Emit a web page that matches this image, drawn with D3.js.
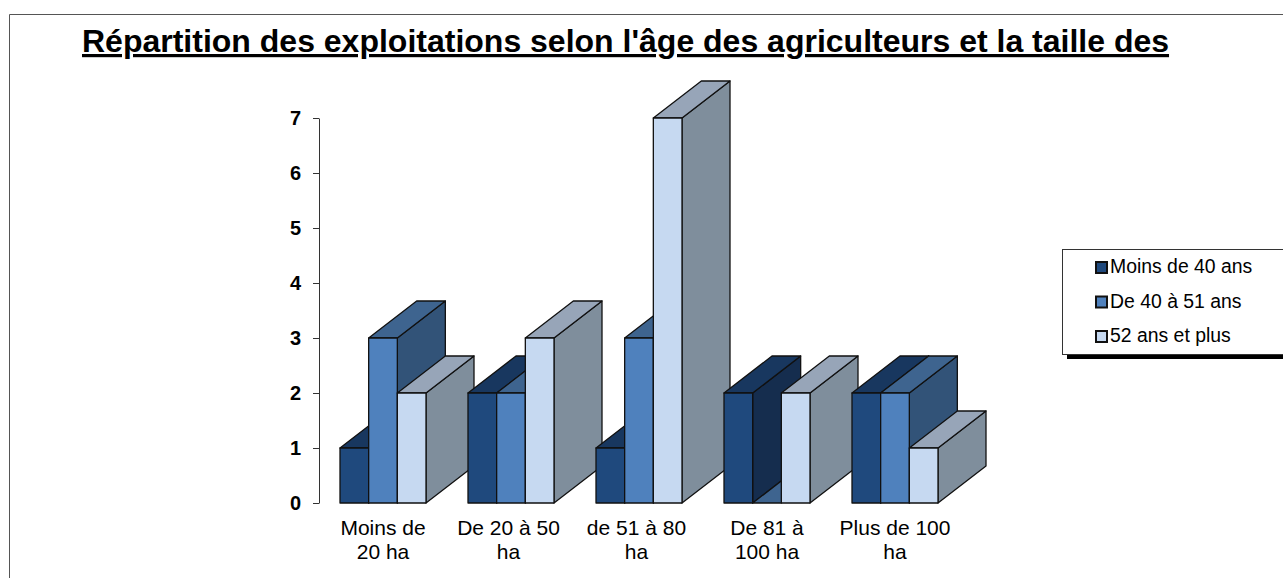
<!DOCTYPE html>
<html>
<head>
<meta charset="utf-8">
<script src="https://cdn.jsdelivr.net/npm/d3@7"></script>
<style>
  html, body { margin: 0; padding: 0; background: #fff; overflow: hidden; }
  svg { display: block; font-family: "Liberation Sans", Arial, sans-serif; }
</style>
</head>
<body>
<div id="graph1"></div>
<script>
const title = "Répartition des exploitations selon l'âge des agriculteurs et la taille des";
const categories = ["Moins de 20 ha", "De 20 à 50 ha", "de 51 à 80 ha", "De 81 à 100 ha", "Plus de 100 ha"];
const categoryLines = [["Moins de", "20 ha"], ["De 20 à 50", "ha"], ["de 51 à 80", "ha"], ["De 81 à", "100 ha"], ["Plus de 100", "ha"]];
const seriesNames = ["Moins de 40 ans", "De 40 à 51 ans", "52 ans et plus"];
const moins40 = [1, 2, 1, 2, 2];
const de40a51 = [3, 2, 3, 0, 2];
const plus52 = [2, 3, 7, 2, 1];
const yTicks = [0, 1, 2, 3, 4, 5, 6, 7];

const seriesValues = [moins40, de40a51, plus52];
const frontColors = ["#1f497d", "#4f81bd", "#c6d9f1"];
const topColors = ["#18375f", "#3e648f", "#97a5b8"];
const sideColors = ["#152d4e", "#325378", "#7f8e9c"];

const width = 1283, height = 578;
const depthX = 48, depthY = 37; // 3d offset of the bars

const svg = d3.select("#graph1").append("svg")
    .attr("width", width)
    .attr("height", height);

// outer frame, runs off the page on the right and bottom
svg.append("path")
    .attr("d", "M9.5,590V14.5H1290")
    .attr("fill", "none")
    .attr("stroke", "#555")
    .attr("stroke-width", 1);

svg.append("text")
    .attr("x", 82)
    .attr("y", 52)
    .attr("font-size", 32)
    .attr("font-weight", "bold")
    .attr("text-decoration", "underline")
    .attr("fill", "#000")
    .text(title);

const x0 = d3.scaleBand().domain(categories).range([319, 959]).paddingInner(42 / 128).paddingOuter(21 / 128);
const x1 = d3.scaleBand().domain(d3.range(seriesNames.length)).range([0, x0.bandwidth()]);
const y = d3.scaleLinear().domain([0, 7]).range([503, 118]);

// bars, back to front so the nearer ones hide the sides of the previous
categories.forEach(function(cat, c) {
  seriesValues.forEach(function(values, s) {
    const xl = x0(cat) + x1(s);
    const xr = xl + x1.bandwidth();
    const yt = y(values[c]);
    const yb = y(0);
    const g = svg.append("g")
        .attr("stroke", "#111")
        .attr("stroke-width", 1.3)
        .attr("stroke-linejoin", "round");
    if (values[c] > 0) {
      g.append("path")
          .attr("d", `M${xr},${yb}L${xr + depthX},${yb - depthY}V${yt - depthY}L${xr},${yt}Z`)
          .attr("fill", sideColors[s]);
    }
    g.append("path")
        .attr("d", `M${xl},${yt}L${xl + depthX},${yt - depthY}H${xr + depthX}L${xr},${yt}Z`)
        .attr("fill", topColors[s]);
    if (values[c] > 0) {
      g.append("rect")
          .attr("x", xl)
          .attr("y", yt)
          .attr("width", xr - xl)
          .attr("height", yb - yt)
          .attr("fill", frontColors[s]);
    }
  });
});

// y axis
const yAxis = svg.append("g")
    .attr("transform", "translate(319,0)")
    .call(d3.axisLeft(y).tickValues(yTicks).tickFormat(d3.format("d")).tickSize(6).tickSizeOuter(0));
yAxis.selectAll("path, line").attr("stroke", "#333");
yAxis.selectAll("text")
    .attr("font-size", 20)
    .attr("font-weight", "bold")
    .attr("font-family", "'Liberation Sans', Arial, sans-serif")
    .attr("fill", "#000")
    .attr("x", -18);

// category labels (the two long ones sit a little left of their band)
const labelShift = [0, -2.5, -2.5, 0, 0];
categories.forEach(function(cat, c) {
  const cx = x0(cat) + x0.bandwidth() / 2 + labelShift[c];
  const t = svg.append("text")
      .attr("text-anchor", "middle")
      .attr("font-size", 21)
      .attr("fill", "#000");
  categoryLines[c].forEach(function(line, i) {
    t.append("tspan")
        .attr("x", cx)
        .attr("y", 535 + i * 24)
        .text(line);
  });
});

// legend
svg.append("rect").attr("x", 1067).attr("y", 354).attr("width", 220).attr("height", 5).attr("fill", "#000");
svg.append("rect")
    .attr("x", 1062.5).attr("y", 249.5).attr("width", 230).attr("height", 105)
    .attr("fill", "#fff").attr("stroke", "#333");
const legendY = d3.scalePoint().domain(seriesNames).range([267, 336]);
seriesNames.forEach(function(name, s) {
  svg.append("rect")
      .attr("x", 1096).attr("y", legendY(name) - 5)
      .attr("width", 11).attr("height", 11)
      .attr("fill", frontColors[s])
      .attr("stroke", "#111").attr("stroke-width", 2);
  svg.append("text")
      .attr("x", 1110).attr("y", legendY(name) + 6)
      .attr("font-size", 19.4)
      .attr("fill", "#000")
      .text(name);
});
</script>
</body>
</html>
